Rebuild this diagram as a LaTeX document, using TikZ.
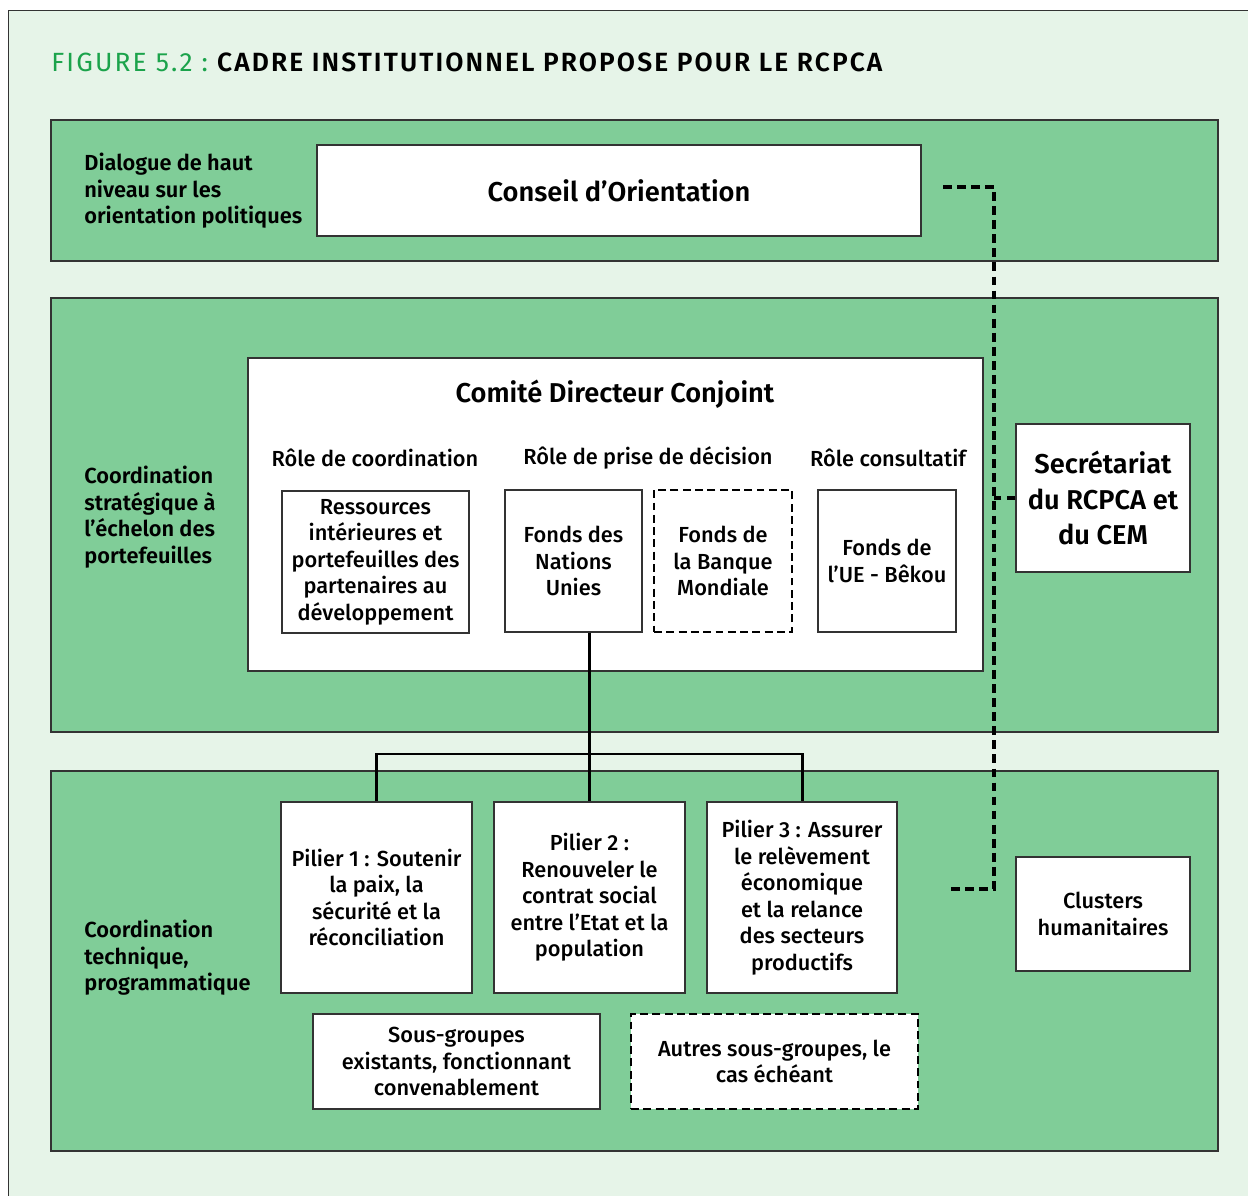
\documentclass[tikz,border=0pt]{standalone}
\usepackage{fontspec}
\setmainfont{Fira Sans}[UprightFont={* Medium}, BoldFont={* SemiBold}]
\newfontfamily\figfont{Fira Sans}[LetterSpace=8]
\newfontfamily\figboldfont{Fira Sans SemiBold}[LetterSpace=8]
\definecolor{bandgreen}{HTML}{80CD98}
\definecolor{pagegreen}{HTML}{E6F4E8}
\definecolor{figgreen}{HTML}{1BA34B}
\definecolor{edgegray}{HTML}{333333}

\begin{document}
\begin{tikzpicture}[x=0.02cm, y=-0.02cm,
  band/.style={draw=edgegray, line width=0.7pt, fill=bandgreen},
  box/.style={draw=edgegray, line width=0.7pt, fill=white, align=center, inner sep=2pt, font=\fontsize{12.4}{15.1}\selectfont},
  dashbox/.style={box, draw=black, line width=1.4pt, dash pattern=on 4.5pt off 2.5pt},
  headbox/.style={box, font=\bfseries\fontsize{15.5}{19}\selectfont},
  lvl/.style={anchor=west, align=left, inner sep=0pt, font=\bfseries\fontsize{12.4}{15.1}\selectfont},
  role/.style={font=\fontsize{12.4}{15.1}\selectfont},
  link/.style={line width=1.7pt},
  dashlink/.style={line width=1.8pt, dash pattern=on 5pt off 3pt}]
  \useasboundingbox (0,0) rectangle (1248,1196);
  \clip (0,0) rectangle (1248,1196);
  \draw[draw=edgegray, line width=0.7pt, fill=pagegreen] (8.5,10.5) rectangle (1300,1260);

  \node[anchor=base west, inner sep=0pt, font=\fontsize{15}{18}\selectfont] (title) at (51,72)
    {\color{figgreen}\figfont FIGURE 5.2 :\ \color{black}\figboldfont CADRE INSTITUTIONNEL PROPOSE POUR LE RCPCA};

  \draw[band] (51,120) rectangle (1218,261);
  \draw[band] (51,298) rectangle (1218,732);
  \draw[band] (51,771) rectangle (1218,1151);

  \node[lvl] (lvlone) at (84,191) {Dialogue de haut\\niveau sur les\\orientation politiques};
  \node[lvl] (lvltwo) at (84,517) {Coordination\\stratégique à\\l’échelon des\\portefeuilles};
  \node[lvl] (lvlthree) at (84,958) {Coordination\\technique,\\programmatique};

  \node[headbox, minimum width=12.08cm, minimum height=1.82cm] (conseil) at (619,190.5) {Conseil d’Orientation};

  \node[box, minimum width=14.7cm, minimum height=6.26cm] (comite) at (615.5,514.5) {};
  \node[font=\bfseries\fontsize{15.5}{19}\selectfont] (comtitle) at (615,394) {Comité Directeur Conjoint};
  \node[role] (rolecoord) at (375,458) {Rôle de coordination};
  \node[role] (roledec) at (648,458) {Rôle de prise de décision};
  \node[role] (rolecons) at (888,458) {Rôle consultatif};

  \node[box, minimum width=3.74cm, minimum height=2.84cm] (ress) at (375.5,562) {Ressources\\intérieures et\\portefeuilles des\\partenaires au\\développement};
  \node[box, minimum width=2.74cm, minimum height=2.84cm] (fondsnu) at (573.5,561) {Fonds des\\Nations\\Unies};
  \node[dashbox, minimum width=2.76cm, minimum height=2.84cm] (fondsbm) at (723,561) {Fonds de\\la Banque\\Mondiale};
  \node[box, minimum width=2.76cm, minimum height=2.84cm] (fondsue) at (887,561) {Fonds de\\l’UE - Bêkou};

  \node[box, font=\bfseries\fontsize{15.5}{20}\selectfont, minimum width=3.48cm, minimum height=2.96cm] (secr) at (1103,498) {Secrétariat\\du RCPCA et\\du CEM};

  \node[box, minimum width=3.82cm, minimum height=3.82cm] (pil1) at (376.5,897.5) {Pilier 1 : Soutenir\\la paix, la\\sécurité et la\\réconciliation};
  \node[box, minimum width=3.82cm, minimum height=3.82cm] (pil2) at (589.5,897.5) {Pilier 2 :\\Renouveler le\\contrat social\\entre l’Etat et la\\population};
  \node[box, minimum width=3.8cm, minimum height=3.82cm] (pil3) at (802,897.5) {Pilier 3 : Assurer\\le relèvement\\économique\\et la relance\\des secteurs\\productifs};

  \node[box, minimum width=5.74cm, minimum height=1.9cm] (sousg) at (456.5,1061.5) {Sous-groupes\\existants, fonctionnant\\convenablement};
  \node[dashbox, minimum width=5.74cm, minimum height=1.9cm] (autres) at (774.5,1061.5) {Autres sous-groupes, le\\cas échéant};
  \node[box, minimum width=3.48cm, minimum height=2.28cm] (clusters) at (1103,914) {Clusters\\humanitaires};

  \coordinate (bar) at (589,754);
  \draw[link] (fondsnu.south -| pil2.north) -- (pil2.north);
  \draw[link] (pil1.north) |- (bar) -| (pil3.north);

  \coordinate (dtop) at (943,187);
  \coordinate (dbot) at (950,889);
  \coordinate (trunk) at (994,500);
  \draw[dashlink] (dtop) -- (dtop -| trunk) -- (dbot -| trunk) -- (dbot);
  \draw[dashlink] (secr.west) -- (secr.west -| trunk);
\end{tikzpicture}
\end{document}
